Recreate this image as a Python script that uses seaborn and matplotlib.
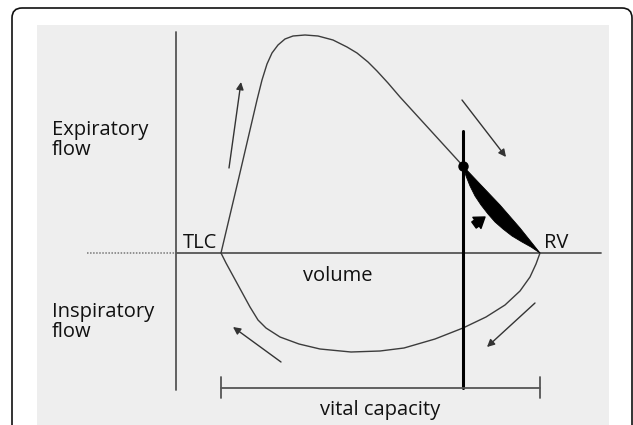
"""
Flow-volume loop schematic with dynamic airway compression (black lens
between the effort-independent expiratory limb and the true curve).
Coordinates are in picture units: x = volume, y = flow (drawn downwards).
"""

import numpy as np
import pandas as pd
import matplotlib.pyplot as plt
from matplotlib.patches import Rectangle, FancyBboxPatch
import seaborn as sns

# --- loop limbs ---
EXP_X = [221, 239, 257, 262, 267, 272, 278, 285, 293, 305, 318, 333, 347,
         357, 368, 377, 388, 400, 463]
EXP_Y = [253, 177, 100, 80, 64, 53, 45, 39, 36, 35, 36, 40, 47,
         53, 62, 71, 83, 97, 166]
INSP_X = [221, 226, 238, 250, 258, 266, 280, 299, 320, 351, 380, 404, 435,
          463, 486, 505, 520, 530, 536, 540]
INSP_Y = [253, 263, 285, 307, 320, 328, 337, 344, 349, 352, 351, 348, 339,
          328, 317, 305, 291, 277, 264, 253]

# compressed segment: outer (straight) and inner (bowed) edge
LENS_OUT_X = [463, 480, 500, 520, 540]
LENS_OUT_Y = [166, 184, 205, 228, 253]
LENS_IN_X = [463, 466, 470, 475, 481, 488, 495, 503, 512, 522, 531, 540]
LENS_IN_Y = [166, 176, 186, 196, 205, 214, 222, 229, 236, 242, 247, 253]

TLC, RV = 221, 540
ZERO_FLOW = 253
Y_AXIS_X, Y_AXIS_TOP, Y_AXIS_BOTTOM = 176, 32, 390
X_AXIS_END = 601
DOTTED_START = 87
CHOKE_X, CHOKE_TOP, CHOKE_BOTTOM = 463, 131, 388
CHOKE_POINT = (463, 166)
VC_Y, VC_TICK = 388, (377, 398)

# direction arrows: (x0, y0, x1, y1)
ARROWS = [(229, 168, 241, 82),
          (462, 100, 506, 157),
          (535, 303, 487, 347),
          (281, 362, 233, 327)]
POINTER = (474, 225, 485, 217)

LABELS = [("Expiratory\nflow", 52, 140, "left"),
          ("Inspiratory\nflow", 52, 322, "left"),
          ("TLC", 200, 243, "center"),
          ("RV", 556, 243, "center"),
          ("volume", 338, 276, "center"),
          ("vital capacity", 380, 410, "center")]

LINE = "#3c3c3c"
AXIS = "#555555"

sns.set_theme(style="white")
plt.rcParams["font.family"] = ["Open Sans", "DejaVu Sans"]

fig = plt.figure(figsize=(6.33, 4.25), dpi=100)
ax = fig.add_axes([0, 0, 1, 1])
ax.set_xlim(0, 633)
ax.set_ylim(425, 0)
ax.axis("off")

# frame + grey panel
ax.add_patch(FancyBboxPatch((12, 8), 620, 440,
                            boxstyle="round,pad=0,rounding_size=10",
                            facecolor="white", edgecolor="#111111",
                            linewidth=1.2, zorder=0))
ax.add_patch(Rectangle((37, 25), 572, 420, facecolor="#eeeeee",
                       edgecolor="none", zorder=0.5))

# axes of the diagram
ax.plot([Y_AXIS_X, Y_AXIS_X], [Y_AXIS_TOP, Y_AXIS_BOTTOM], color=AXIS, lw=1.3)
ax.plot([Y_AXIS_X, X_AXIS_END], [ZERO_FLOW, ZERO_FLOW], color=AXIS, lw=1.3)
ax.plot([DOTTED_START, Y_AXIS_X], [ZERO_FLOW, ZERO_FLOW], color="#777777",
        lw=1.1, ls=(0, (1, 1)))

# loop
loop = pd.DataFrame({"v": EXP_X + INSP_X, "f": EXP_Y + INSP_Y,
                     "limb": ["exp"] * len(EXP_X) + ["insp"] * len(INSP_X)})
sns.lineplot(data=loop, x="v", y="f", units="limb", estimator=None,
             sort=False, color=LINE, lw=1.0, ax=ax)

# black lens of compressed flow
ax.fill(LENS_OUT_X + LENS_IN_X[::-1], LENS_OUT_Y + LENS_IN_Y[::-1],
        color="black", lw=0.6, zorder=3)

# choke line and point
ax.plot([CHOKE_X, CHOKE_X], [CHOKE_TOP, CHOKE_BOTTOM], color="black", lw=2.2)
ax.plot(*CHOKE_POINT, "o", color="black", ms=6.5, zorder=4)

# vital capacity bar
ax.plot([TLC, RV], [VC_Y, VC_Y], color=AXIS, lw=1.3)
for xv in (TLC, RV):
    ax.plot([xv, xv], VC_TICK, color=AXIS, lw=1.3)

for x0, y0, x1, y1 in ARROWS:
    ax.annotate("", xy=(x1, y1), xytext=(x0, y0),
                arrowprops=dict(arrowstyle="-|>", color="#333333", lw=1.0,
                                mutation_scale=11, shrinkA=0, shrinkB=0))
ax.annotate("", xy=POINTER[2:], xytext=POINTER[:2],
            arrowprops=dict(arrowstyle="simple,head_width=1.1,head_length=0.8,tail_width=0.6",
                            color="black", mutation_scale=9,
                            shrinkA=0, shrinkB=0))

for text, x, y, ha in LABELS:
    ax.text(x, y, text, ha=ha, va="center", fontsize=14.5, color="#111111",
            linespacing=0.95)

fig.savefig("out.png", dpi=100)
